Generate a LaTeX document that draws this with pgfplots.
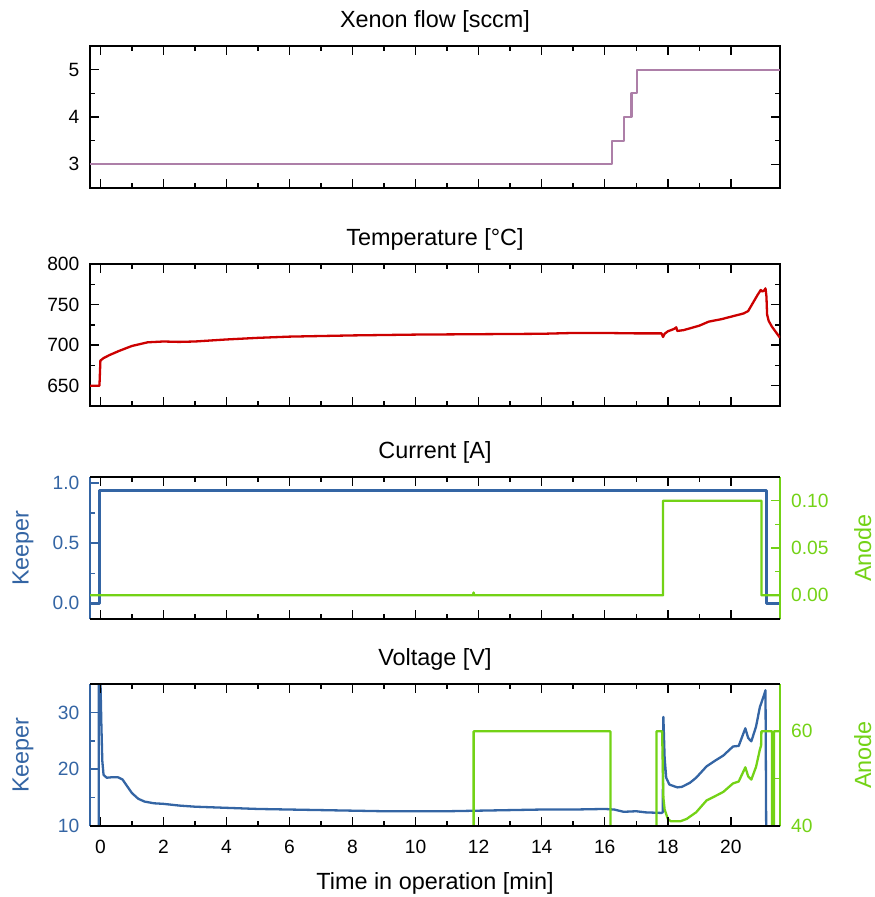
\documentclass[border=0pt]{standalone}
\usepackage{fontspec}
\setmainfont{Liberation Sans}
\usepackage{pgfplots}
\pgfplotsset{compat=1.18}

\definecolor{kblue}{HTML}{3465A4}
\definecolor{agreen}{HTML}{73D216}
\definecolor{tred}{HTML}{CC0000}
\definecolor{xplum}{HTML}{AD7FA8}

\newcommand\ticksize{\fontsize{19.2}{22}\selectfont}
\newcommand\labsize{\fontsize{23.4}{27}\selectfont}

\pgfplotsset{
  panel/.style={
    scale only axis, width=690pt, height=142pt, anchor=north west,
    xmin=-0.33, xmax=21.56,
    xtick={0,2,...,20}, minor x tick num=1,
    tick align=inside,
    major tick length=9pt, minor tick length=5pt,
    axis line style={line width=1.5pt},
    every tick/.style={black, line width=1.5pt},
    /pgf/number format/assume math mode=true,
    tick label style={font=\ticksize},
    xticklabel style={inner sep=0pt, anchor=north, yshift=-14pt},
    title style={font=\labsize, at={(axis description cs:0.5,1)}, anchor=base, yshift=13pt},
    label style={font=\labsize},
    every axis plot/.append style={line width=2.3pt, line join=round, mark=none},
  },
  lefty/.style={yticklabel style={inner sep=0pt, anchor=east, xshift=-10.5pt}},
  righty/.style={yticklabel style={inner sep=0pt, anchor=west, xshift=11pt}},
  noxlab/.style={xticklabels={}},
}

\begin{document}
\begin{tikzpicture}
\useasboundingbox (0,0) rectangle (875pt,-897pt);

% ---------- Xenon flow ----------
\begin{axis}[panel, lefty, noxlab, at={(90pt,-46pt)},
  title={Xenon flow [sccm]},
  ymin=2.5, ymax=5.5, ytick={3,4,5}, minor y tick num=1]
\addplot[xplum] coordinates {
  (-0.33,3.0) (16.24,3.0) (16.24,3.5) (16.62,3.5) (16.62,4.0)
  (16.85,4.0) (16.85,4.5) (17.02,4.5) (17.02,5.0) (21.56,5.0)};
\end{axis}

% ---------- Temperature ----------
\begin{axis}[panel, lefty, noxlab, at={(90pt,-264pt)},
  title={Temperature [°C]},
  ymin=625, ymax=800, ytick={650,700,750,800}, minor y tick num=1]
\addplot[tred] coordinates {
  (-0.33,650) (-0.03,650) (0.0,681) (0.1,684) (0.3,688) (0.6,693)
  (1.0,699) (1.5,703.5) (2.0,704.5) (2.5,704) (3.0,704.5) (4,707)
  (5,709) (6,710.5) (8,712) (10,713) (12,713.5) (14,714) (15,715)
  (16,715) (17,714.5) (17.8,714.5) (17.85,710) (17.9,714) (18.0,717)
  (18.2,720) (18.27,722) (18.3,717.5) (18.5,718.5) (19.0,724)
  (19.3,729) (19.7,732) (20.0,735) (20.4,739) (20.55,742) (20.7,752)
  (20.85,762) (20.95,768) (21.0,766) (21.07,768) (21.1,770)
  (21.13,760) (21.15,738) (21.2,730) (21.3,723) (21.45,715) (21.56,709)};
\end{axis}

% ---------- Current: keeper (left) ----------
\begin{axis}[panel, lefty, at={(90pt,-477pt)}, hide x axis,
  axis y line*=left,
  axis line style={kblue, -}, every tick/.style={kblue, line width=1.5pt},
  yticklabel style={kblue, /pgf/number format/.cd, fixed, fixed zerofill, precision=1},
  ylabel={Keeper},
  ylabel style={kblue, at={(axis description cs:-0.097,0.5)}, anchor=center},
  ymin=-0.13, ymax=1.05, ytick={0,0.5,1}, minor y tick num=1]
\addplot[kblue] coordinates {
  (-0.33,0.0) (-0.03,0.0) (-0.03,0.937) (21.13,0.937) (21.13,0.0) (21.56,0.0)};
\end{axis}
% ---------- Current: anode (right) ----------
\begin{axis}[panel, righty, at={(90pt,-477pt)}, hide x axis,
  axis y line*=right,
  axis line style={agreen, -}, every tick/.style={agreen, line width=1.5pt},
  yticklabel style={agreen, /pgf/number format/.cd, fixed, fixed zerofill, precision=2},
  ylabel={Anode},
  ylabel style={agreen, at={(axis description cs:1.12,0.5)}, anchor=center},
  ymin=-0.025, ymax=0.125, ytick={0,0.05,0.1}, minor y tick num=1]
\addplot[agreen] coordinates {
  (-0.33,0.0) (11.82,0.0) (11.84,0.003) (11.86,0.0) (17.85,0.0)
  (17.85,0.1) (20.97,0.1) (20.97,0.0) (21.56,0.0)};
\end{axis}
% frame with the time ticks
\begin{axis}[panel, noxlab, at={(90pt,-477pt)}, hide y axis,
  title={Current [A]}, ymin=0, ymax=1]
\end{axis}

% ---------- Voltage: keeper (left) ----------
\begin{axis}[panel, lefty, at={(90pt,-684pt)}, hide x axis,
  axis y line*=left,
  axis line style={kblue, -}, every tick/.style={kblue, line width=1.5pt},
  yticklabel style={kblue},
  ylabel={Keeper},
  ylabel style={kblue, at={(axis description cs:-0.097,0.5)}, anchor=center},
  ymin=10, ymax=35, ytick={10,20,30}, minor y tick num=1]
\addplot[kblue] coordinates {
  (-0.33,0) (-0.05,0) (-0.05,40) (0.0,36) (0.03,28) (0.06,21.5)
  (0.1,19) (0.2,18.5) (0.4,18.6) (0.55,18.6) (0.7,18.2) (0.85,17)
  (1.0,15.8) (1.2,14.8) (1.4,14.3) (1.7,14.0) (2.0,13.9) (2.5,13.6)
  (3,13.4) (4,13.2) (5,13.0) (6,12.9) (7,12.8) (8,12.7) (9,12.6)
  (10,12.6) (11,12.6) (12,12.7) (13,12.8) (14,12.9) (15,12.9)
  (16,13.0) (16.3,12.9) (16.6,12.5) (17,12.6) (17.3,12.4) (17.8,12.3)
  (17.84,12.4) (17.86,29.2) (17.9,22) (17.95,18.5) (18.05,17.3)
  (18.3,16.8) (18.45,16.9) (18.7,17.6) (18.9,18.5) (19.23,20.5)
  (19.5,21.5) (19.76,22.4) (20.07,24.0) (20.25,24.1) (20.46,27.2)
  (20.55,25.5) (20.65,24.9) (20.8,27.5) (20.92,30.9) (21.05,33)
  (21.1,33.9) (21.13,0) (21.56,0)};
\end{axis}
% ---------- Voltage: anode (right) ----------
\begin{axis}[panel, righty, at={(90pt,-684pt)}, hide x axis,
  axis y line*=right,
  axis line style={agreen, -}, every tick/.style={agreen, line width=1.5pt},
  yticklabel style={agreen},
  ylabel={Anode},
  ylabel style={agreen, at={(axis description cs:1.12,0.5)}, anchor=center},
  ymin=40, ymax=70, ytick={40,60}, minor y tick num=1]
\addplot[agreen] coordinates {
  (-0.33,0) (11.84,0) (11.84,60) (16.18,60) (16.18,0) (17.64,0)
  (17.64,60) (17.82,60) (17.86,46) (17.9,43.5) (18.0,41.5) (18.1,41.0)
  (18.4,41.0) (18.6,41.5) (18.9,42.9) (19.23,45.4) (19.5,46.3)
  (19.76,47.2) (20.07,49.0) (20.25,49.4) (20.46,52.4) (20.55,50.5)
  (20.65,49.8) (20.8,52.5) (20.92,56.1) (20.96,57) (20.97,60)
  (21.31,60) (21.31,0) (21.37,0) (21.37,60) (21.56,60)};
\end{axis}
% frame with the time ticks and labels
\begin{axis}[panel, at={(90pt,-684pt)}, hide y axis,
  title={Voltage [V]}, ymin=0, ymax=1,
  xlabel={Time in operation [min]},
  xlabel style={at={(axis description cs:0.5,0)}, anchor=base, yshift=-63pt}]
\end{axis}
\end{tikzpicture}
\end{document}
